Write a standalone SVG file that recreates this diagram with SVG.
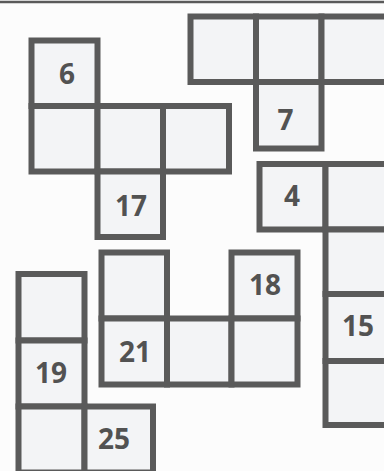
<svg xmlns="http://www.w3.org/2000/svg" width="384" height="471" viewBox="0 0 384 471">
<style>
.sq{fill:#f3f4f6;stroke:#5a5a5a;stroke-width:6}
.n{font-family:"Open Sans","Liberation Sans",sans-serif;font-weight:700;font-size:28px;fill:#525252;text-anchor:middle}
</style>
<rect x="0" y="0" width="384" height="471" fill="#fcfcfc"/>
<line x1="0" y1="2" x2="384" y2="2" stroke="#5a5a5a" stroke-width="2.5"/>
<g id="piece-6-17">
<rect class="sq" x="31.5" y="40.5" width="66" height="65.5"/>
<rect class="sq" x="31.5" y="106" width="66" height="65.5"/>
<rect class="sq" x="97.5" y="106" width="65.5" height="65.5"/>
<rect class="sq" x="163" y="106" width="66" height="65.5"/>
<rect class="sq" x="97.5" y="171.5" width="65.5" height="65.5"/>
<text class="n" x="67" y="83.5">6</text>
<text class="n" x="131" y="215.5">17</text>
</g>
<g id="piece-7">
<rect class="sq" x="190.5" y="16.5" width="65.5" height="65.5"/>
<rect class="sq" x="256" y="16.5" width="65.5" height="65.5"/>
<rect class="sq" x="321.5" y="16.5" width="65.5" height="65.5"/>
<rect class="sq" x="256" y="82" width="65.5" height="66.5"/>
<text class="n" x="285.5" y="129.5">7</text>
</g>
<g id="piece-4-15">
<rect class="sq" x="259.5" y="164" width="66" height="65.5"/>
<rect class="sq" x="325.5" y="164" width="65.5" height="65.5"/>
<rect class="sq" x="325.5" y="229.5" width="65.5" height="64.5"/>
<rect class="sq" x="325.5" y="294" width="65.5" height="67"/>
<rect class="sq" x="325.5" y="361" width="65.5" height="64"/>
<text class="n" x="292" y="205.5">4</text>
<text class="n" x="358" y="335.5">15</text>
</g>
<g id="piece-21-18">
<rect class="sq" x="101.5" y="252.5" width="65.5" height="66"/>
<rect class="sq" x="231.5" y="252.5" width="66" height="66"/>
<rect class="sq" x="101.5" y="318.5" width="65.5" height="66"/>
<rect class="sq" x="167" y="318.5" width="64.5" height="66"/>
<rect class="sq" x="231.5" y="318.5" width="66" height="66"/>
<text class="n" x="265" y="294.5">18</text>
<text class="n" x="135" y="361.5">21</text>
</g>
<g id="piece-19-25">
<rect class="sq" x="18.5" y="274" width="66" height="66.5"/>
<rect class="sq" x="18.5" y="340.5" width="66" height="66"/>
<rect class="sq" x="18.5" y="406.5" width="66" height="66"/>
<rect class="sq" x="84.5" y="406.5" width="68.5" height="66"/>
<text class="n" x="51" y="382.5">19</text>
<text class="n" x="114" y="448.5">25</text>
</g>
</svg>
